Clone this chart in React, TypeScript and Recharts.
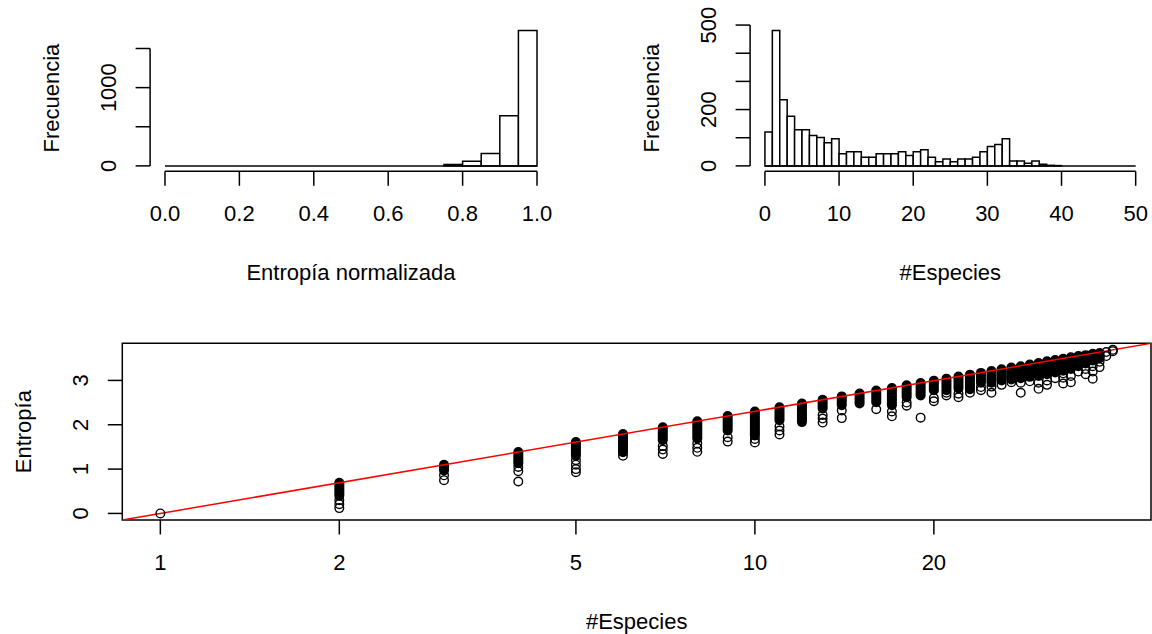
import {
  ComposedChart,
  Label,
  Line,
  ReferenceArea,
  ReferenceLine,
  Scatter,
  XAxis,
  YAxis,
} from "recharts";

const FONT = '"Liberation Sans", Arial, Helvetica, sans-serif';
const FS = 22;
const INK = "#000";
const LW = 1.5;

// --- histograma: entropía normalizada (bins de 0.05)
const entropiaBreaks = [
  0, 0.05, 0.1, 0.15, 0.2, 0.25, 0.3, 0.35, 0.4, 0.45, 0.5, 0.55, 0.6, 0.65,
  0.7, 0.75, 0.8, 0.85, 0.9, 0.95, 1.0,
];
const entropiaCounts = [
  0, 0, 0, 0, 0, 0, 0, 0, 0, 0, 0, 0, 0, 0, 0, 18, 60, 159, 641, 1731,
];
const entropiaXTicks = [0, 0.2, 0.4, 0.6, 0.8, 1.0];
const entropiaYTicks = [0, 500, 1000, 1500];
const entropiaYLabels = [0, 1000];

// --- histograma: número de especies (bins de 1)
const especiesBreaks = [
  0, 1, 2, 3, 4, 5, 6, 7, 8, 9, 10, 11, 12, 13, 14, 15, 16, 17, 18, 19, 20,
  21, 22, 23, 24, 25, 26, 27, 28, 29, 30, 31, 32, 33, 34, 35, 36, 37, 38, 39,
  40, 41, 42, 43, 44, 45, 46, 47, 48, 49, 50,
];
const especiesCounts = [
  120, 481, 235, 176, 128, 128, 108, 101, 82, 96, 43, 50, 50, 31, 31, 43, 43,
  43, 50, 37, 50, 57, 31, 15, 24, 15, 24, 24, 31, 50, 69, 76, 96, 17, 17, 9,
  17, 6, 2, 1, 0, 0, 0, 0, 0, 0, 0, 0, 0, 0,
];
const especiesXTicks = [0, 10, 20, 30, 40, 50];
const especiesYTicks = [0, 100, 200, 300, 400, 500];
const especiesYLabels = [0, 200, 500];

// --- dispersión: entropía vs #especies (eje x logarítmico)
// columnas densas de puntos: valor máximo y mínimo de cada columna
const columnasN = [
  2, 3, 4, 5, 6, 7, 8, 9, 10, 11, 12, 13, 14, 15, 16, 17, 18, 19, 20, 21, 22,
  23, 24, 25, 26, 27, 28, 29, 30, 31, 32, 33, 34, 35, 36, 37, 38,
];
const columnasMax = [
  0.69, 1.1, 1.385, 1.61, 1.79, 1.945, 2.08, 2.195, 2.3, 2.395, 2.48, 2.565,
  2.64, 2.705, 2.77, 2.83, 2.89, 2.94, 2.995, 3.04, 3.09, 3.13, 3.17, 3.21,
  3.25, 3.29, 3.32, 3.36, 3.39, 3.43, 3.46, 3.49, 3.52, 3.55, 3.57, 3.6, 3.62,
];
const columnasMin = [
  0.4, 0.97, 1.13, 1.3, 1.38, 1.65, 1.69, 1.87, 1.76, 2.1, 2.06, 2.37, 2.44,
  2.48, 2.51, 2.44, 2.62, 2.66, 2.78, 2.78, 2.82, 2.8, 2.95, 2.95, 3.0, 3.02,
  3.05, 3.08, 3.1, 3.14, 3.18, 3.22, 3.26, 3.32, 3.38, 3.45, 3.52,
];
// puntos sueltos
const sueltosN = [
  1, 2, 2, 2, 3, 3, 4, 4, 4, 5, 5, 5, 5, 6, 7, 7, 7, 8, 8, 8, 9, 9, 10, 10,
  11, 11, 11, 13, 13, 13, 14, 14, 16, 17, 17, 18, 18, 19, 20, 20, 21, 21, 22,
  22, 23, 24, 24, 25, 25, 26, 27, 28, 28, 29, 30, 30, 31, 31, 32, 33, 33, 33,
  34, 34, 35, 36, 36, 37, 37, 37, 38, 38, 38, 39, 39, 40, 40,
];
const sueltosH = [
  0, 0.3, 0.21, 0.12, 0.86, 0.75, 1.05, 0.95, 0.72, 1.2, 1.1, 1.0, 0.93, 1.3,
  1.52, 1.44, 1.34, 1.58, 1.48, 1.39, 1.72, 1.62, 1.68, 1.6, 1.96, 1.87, 1.78,
  2.22, 2.14, 2.05, 2.32, 2.15, 2.35, 2.3, 2.19, 2.5, 2.43, 2.16, 2.6, 2.53,
  2.66, 2.72, 2.62, 2.7, 2.72, 2.85, 2.78, 2.72, 2.86, 2.9, 2.96, 2.72, 2.95,
  2.98, 2.81, 2.95, 2.9, 3.0, 3.05, 2.93, 3.06, 3.16, 2.96, 3.1, 3.2, 3.14,
  3.26, 3.04, 3.2, 3.32, 3.3, 3.42, 3.5, 3.55, 3.64, 3.69, 3.66,
];
// curva teórica log(N), de esquina a esquina
const curvaX = [0.863, 46.37];
const curvaY = [-0.148, 3.837];
const dispXTicks = [1, 2, 5, 10, 20];
const dispYTicks = [0, 1, 2, 3];

const textProps = {
  fontFamily: FONT,
  fontSize: FS,
  fill: INK,
  textAnchor: "middle" as const,
  dominantBaseline: "central" as const,
};

const xTick = (fmt: (v: number) => string) => (props: any) => {
  const { x, y, payload } = props;
  return (
    <text x={x} y={y + 27.5} {...textProps}>
      {fmt(payload.value)}
    </text>
  );
};

const yTick = (shown: number[] | null) => (props: any) => {
  const { x, y, payload } = props;
  if (shown && !shown.includes(payload.value)) return <g />;
  const cx = x - 27;
  return (
    <text x={cx} y={y} transform={`rotate(-90 ${cx} ${y})`} {...textProps}>
      {payload.value}
    </text>
  );
};

const xTitle = (text: string) => (props: any) => {
  const vb = props.viewBox;
  return (
    <text x={vb.x + vb.width / 2} y={vb.y + 101} {...textProps}>
      {text}
    </text>
  );
};

const yTitle = (text: string) => (props: any) => {
  const vb = props.viewBox;
  const cx = vb.x + vb.width - 98.5;
  const cy = vb.y + vb.height / 2;
  return (
    <text x={cx} y={cy} transform={`rotate(-90 ${cx} ${cy})`} {...textProps}>
      {text}
    </text>
  );
};

interface HistProps {
  breaks: number[];
  counts: number[];
  xTicks: number[];
  yTicks: number[];
  yLabels: number[];
  xFmt: (v: number) => string;
  xTitleText: string;
  width: number;
  marginRight: number;
}

function Histogram({
  breaks,
  counts,
  xTicks,
  yTicks,
  yLabels,
  xFmt,
  xTitleText,
  width,
  marginRight,
}: HistProps) {
  // R: rango extendido un 4% por cada lado
  const x0 = breaks[0];
  const x1 = breaks[breaks.length - 1];
  const yTop = Math.max(...counts);
  const xPad = (x1 - x0) * 0.04;
  const yPad = yTop * 0.04;
  const xDom = [x0 - xPad, x1 + xPad];
  const yDom = [-yPad, yTop + yPad];
  const bins = counts.map((c, i) => ({ a: breaks[i], b: breaks[i + 1], c }));

  return (
    <ComposedChart
      width={width}
      height={300}
      margin={{ top: 25, right: marginRight, bottom: 0, left: 0 }}
      data={bins.map((d) => ({ x: (d.a + d.b) / 2, y: d.c }))}
    >
      <XAxis
        type="number"
        dataKey="x"
        domain={xDom}
        allowDataOverflow
        ticks={xTicks}
        interval={0}
        height={128.7}
        axisLine={false}
        tickLine={{ stroke: INK, strokeWidth: LW }}
        tickSize={14.5}
        tickMargin={0}
        tick={xTick(xFmt)}
      >
        <Label content={xTitle(xTitleText)} />
      </XAxis>
      <YAxis
        type="number"
        domain={yDom}
        allowDataOverflow
        ticks={yTicks}
        interval={0}
        width={150.1}
        axisLine={false}
        tickLine={{ stroke: INK, strokeWidth: LW }}
        tickSize={14.5}
        tickMargin={0}
        tick={yTick(yLabels)}
      >
        <Label content={yTitle("Frecuencia")} />
      </YAxis>
      <ReferenceLine
        segment={[
          { x: xTicks[0], y: yDom[0] },
          { x: xTicks[xTicks.length - 1], y: yDom[0] },
        ]}
        stroke={INK}
        strokeWidth={LW}
        ifOverflow="visible"
      />
      <ReferenceLine
        segment={[
          { x: xDom[0], y: yTicks[0] },
          { x: xDom[0], y: yTicks[yTicks.length - 1] },
        ]}
        stroke={INK}
        strokeWidth={LW}
        ifOverflow="visible"
      />
      <ReferenceLine
        segment={[
          { x: x0, y: 0 },
          { x: x1, y: 0 },
        ]}
        stroke={INK}
        strokeWidth={LW}
        ifOverflow="visible"
      />
      {bins
        .filter((d) => d.c > 0)
        .map((d) => (
          <ReferenceArea
            key={d.a}
            x1={d.a}
            x2={d.b}
            y1={0}
            y2={d.c}
            fill="#fff"
            fillOpacity={1}
            stroke={INK}
            strokeWidth={LW}
            ifOverflow="visible"
          />
        ))}
    </ComposedChart>
  );
}

function Ring(props: any) {
  const { cx, cy } = props;
  if (cx == null || cy == null) return <g />;
  return (
    <circle cx={cx} cy={cy} r={4.3} fill="none" stroke={INK} strokeWidth={1.4} />
  );
}

function Dispersion() {
  const xDom = [curvaX[0], curvaX[1]];
  const yDom = [curvaY[0], curvaY[1]];
  const sueltos = sueltosN.map((n, i) => ({ x: n, y: sueltosH[i] }));
  const curva = curvaX.map((x, i) => ({ x, y: curvaY[i] }));

  return (
    <ComposedChart
      width={1152}
      height={314}
      margin={{ top: 23.3, right: 1, bottom: 0, left: 0 }}
    >
      <XAxis
        type="number"
        dataKey="x"
        scale="log"
        domain={xDom}
        allowDataOverflow
        ticks={dispXTicks}
        interval={0}
        height={114}
        axisLine={false}
        tickLine={{ stroke: INK, strokeWidth: LW }}
        tickSize={14.5}
        tickMargin={0}
        tick={xTick((v) => String(v))}
      >
        <Label content={xTitle("#Especies")} />
      </XAxis>
      <YAxis
        type="number"
        dataKey="y"
        domain={yDom}
        allowDataOverflow
        ticks={dispYTicks}
        interval={0}
        width={122.3}
        axisLine={false}
        tickLine={{ stroke: INK, strokeWidth: LW }}
        tickSize={14.5}
        tickMargin={0}
        tick={yTick(null)}
      >
        <Label content={yTitle("Entropía")} />
      </YAxis>
      <ReferenceArea
        x1={xDom[0]}
        x2={xDom[1]}
        y1={yDom[0]}
        y2={yDom[1]}
        fill="none"
        stroke={INK}
        strokeWidth={LW}
        ifOverflow="visible"
      />
      {columnasN.map((n, i) => (
        <Line
          key={n}
          data={[
            { x: n, y: columnasMax[i] },
            { x: n, y: columnasMin[i] },
          ]}
          dataKey="y"
          stroke={INK}
          strokeWidth={10}
          strokeLinecap="round"
          dot={false}
          activeDot={false}
          isAnimationActive={false}
        />
      ))}
      <Scatter data={sueltos} shape={<Ring />} isAnimationActive={false} />
      <Line
        data={curva}
        dataKey="y"
        stroke="#ff0000"
        strokeWidth={1.5}
        dot={false}
        activeDot={false}
        isAnimationActive={false}
      />
    </ComposedChart>
  );
}

export default function App() {
  return (
    <div
      style={{
        position: "absolute",
        left: 0,
        top: 0,
        width: 1152,
        height: 634,
        background: "#fff",
        overflow: "hidden",
      }}
    >
      <div style={{ position: "absolute", left: 0, top: 0 }}>
        <Histogram
          breaks={entropiaBreaks}
          counts={entropiaCounts}
          xTicks={entropiaXTicks}
          yTicks={entropiaYTicks}
          yLabels={entropiaYLabels}
          xFmt={(v) => v.toFixed(1)}
          xTitleText="Entropía normalizada"
          width={560}
          marginRight={8.1}
        />
      </div>
      <div style={{ position: "absolute", left: 600, top: 0 }}>
        <Histogram
          breaks={especiesBreaks}
          counts={especiesCounts}
          xTicks={especiesXTicks}
          yTicks={especiesYTicks}
          yLabels={especiesYLabels}
          xFmt={(v) => String(v)}
          xTitleText="#Especies"
          width={552}
          marginRight={1.5}
        />
      </div>
      <div style={{ position: "absolute", left: 0, top: 320 }}>
        <Dispersion />
      </div>
    </div>
  );
}
